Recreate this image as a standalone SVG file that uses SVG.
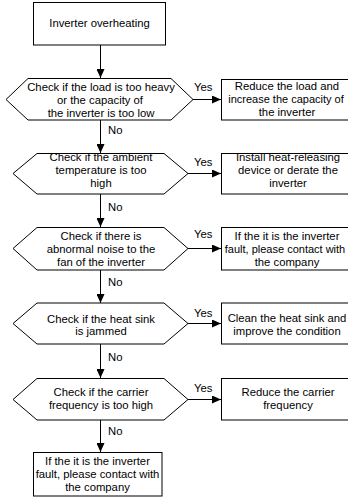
<svg xmlns="http://www.w3.org/2000/svg" width="348" height="497" viewBox="0 0 348 497">
<style>
.s{fill:#fff;stroke:#000;stroke-width:1}
text{font-family:"Liberation Sans",Arial,sans-serif;font-size:11.3px;fill:#000}
.c{text-anchor:middle}
.l{fill:none;stroke:#000;stroke-width:1}
</style>
<defs>
<marker id="ah" markerUnits="userSpaceOnUse" markerWidth="9" markerHeight="8" refX="9" refY="4" orient="auto">
<path d="M0,0 L9,4 L0,8 z" fill="#000"/>
</marker>
</defs>
<rect width="348" height="497" fill="#fff"/>
<g id="connectors">
<path class="l" d="M100.5,45 V78" marker-end="url(#ah)"/>
<path class="l" d="M100.5,120 V153" marker-end="url(#ah)"/>
<path class="l" d="M100.5,194 V227" marker-end="url(#ah)"/>
<path class="l" d="M100.5,270 V303" marker-end="url(#ah)"/>
<path class="l" d="M100.5,344 V378" marker-end="url(#ah)"/>
<path class="l" d="M100.5,420 V452" marker-end="url(#ah)"/>
<path class="l" d="M193,99.5 H221" marker-end="url(#ah)"/>
<path class="l" d="M188,173.5 H221" marker-end="url(#ah)"/>
<path class="l" d="M188,248.5 H221" marker-end="url(#ah)"/>
<path class="l" d="M188,323.5 H221" marker-end="url(#ah)"/>
<path class="l" d="M188,399.5 H221" marker-end="url(#ah)"/>
<text x="194" y="91">Yes</text>
<text x="194" y="166">Yes</text>
<text x="194" y="238">Yes</text>
<text x="194" y="317">Yes</text>
<text x="194" y="392">Yes</text>
<text x="108" y="134">No</text>
<text x="108" y="211">No</text>
<text x="108" y="286">No</text>
<text x="108" y="361">No</text>
<text x="108" y="435">No</text>
</g>
<g id="start">
<rect class="s" x="33.5" y="2.5" width="132" height="42.5"/>
<text class="c" x="99.5" y="27">Inverter overheating</text>
</g>
<g id="check1">
<path class="s" d="M6,99.5 L28,78.5 H171 L193,99.5 L171,120 H28 Z"/>
<text class="c" x="101" y="91">Check if the load is too heavy</text>
<text class="c" x="100" y="104">or the capacity of</text>
<text class="c" x="101" y="117">the inverter is too low</text>
</g>
<g id="action1">
<rect class="s" x="221.5" y="79.5" width="140" height="40.5"/>
<text class="c" x="287" y="90">Reduce the load and</text>
<text class="c" x="286" y="103" style="font-size:11px">increase the capacity of</text>
<text class="c" x="287" y="116">the inverter</text>
</g>
<g id="check2">
<path class="s" d="M13,173.5 L37,153.5 H164 L188,173.5 L164,194 H37 Z"/>
<text class="c" x="101" y="161">Check if the ambient</text>
<text class="c" x="101" y="174">temperature is too</text>
<text class="c" x="101" y="187">high</text>
</g>
<g id="action2">
<rect class="s" x="221.5" y="153.5" width="140" height="40.5"/>
<text class="c" x="288" y="161">Install heat-releasing</text>
<text class="c" x="288" y="174">device or derate the</text>
<text class="c" x="288" y="187">inverter</text>
</g>
<g id="check3">
<path class="s" d="M13,248.5 L37,227.5 H164 L188,248.5 L164,270 H37 Z"/>
<text class="c" x="101" y="240">Check if there is</text>
<text class="c" x="101" y="253">abnormal noise to the</text>
<text class="c" x="101" y="266">fan of the inverter</text>
</g>
<g id="action3">
<rect class="s" x="221.5" y="227.5" width="140" height="42.5"/>
<text class="c" x="287" y="240">If the it is the inverter</text>
<text class="c" x="285" y="253" style="font-size:11px">fault, please contact with</text>
<text class="c" x="287" y="266">the company</text>
</g>
<g id="check4">
<path class="s" d="M13,323.5 L37,303 H164 L188,323.5 L164,344 H37 Z"/>
<text class="c" x="101" y="323">Check if the heat sink</text>
<text class="c" x="101" y="335">is jammed</text>
</g>
<g id="action4">
<rect class="s" x="221.5" y="303" width="140" height="41"/>
<text class="c" x="287" y="322">Clean the heat sink and</text>
<text class="c" x="287" y="335">improve the condition</text>
</g>
<g id="check5">
<path class="s" d="M13,399.5 L37,378.5 H164 L188,399.5 L164,420 H37 Z"/>
<text class="c" x="101" y="396">Check if the carrier</text>
<text class="c" x="101" y="409">frequency is too high</text>
</g>
<g id="action5">
<rect class="s" x="221.5" y="378.5" width="140" height="41.5"/>
<text class="c" x="288" y="396">Reduce the carrier</text>
<text class="c" x="288" y="409">frequency</text>
</g>
<g id="end">
<rect class="s" x="33.5" y="452.5" width="128.5" height="43.5"/>
<text class="c" x="97.5" y="465">If the it is the inverter</text>
<text class="c" x="97.5" y="478">fault, please contact with</text>
<text class="c" x="97.5" y="491">the company</text>
</g>
</svg>
